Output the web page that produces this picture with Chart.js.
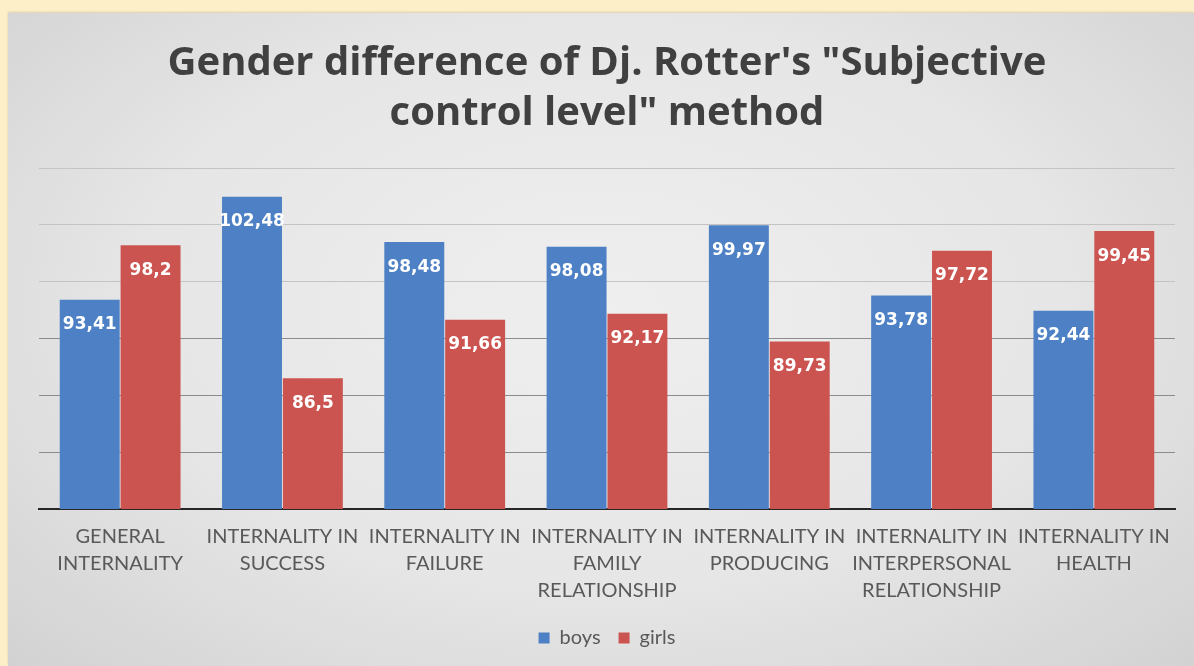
<!DOCTYPE html>
<html>
<head>
<meta charset="utf-8">
<script src="https://cdn.jsdelivr.net/npm/chart.js@4.4.1/dist/chart.umd.min.js"></script>
<style>
    html, body { margin: 0; padding: 0; background: #fdf0c9; }
    body { width: 1194px; height: 666px; position: relative; overflow: hidden; }
    #panel {
        position: absolute; left: 8px; top: 13px; width: 1186px; height: 653px;
        background: radial-gradient(ellipse at 50% 45%, #efefef 0%, #e6e6e6 55%, #d2d2d2 100%);
        box-shadow: 0 -1px 2px rgba(0,0,0,0.15);
    }
    #chart { display: block; }
</style>
</head>
<body>
<div id="panel"><canvas id="chart" width="1186" height="653"></canvas></div>
<script>
    const categories = [
        ['GENERAL', 'INTERNALITY'],
        ['INTERNALITY IN', 'SUCCESS'],
        ['INTERNALITY IN', 'FAILURE'],
        ['INTERNALITY IN', 'FAMILY', 'RELATIONSHIP'],
        ['INTERNALITY IN', 'PRODUCING'],
        ['INTERNALITY IN', 'INTERPERSONAL', 'RELATIONSHIP'],
        ['INTERNALITY IN', 'HEALTH']
    ];
    const boys = [93.41, 102.48, 98.48, 98.08, 99.97, 93.78, 92.44];
    const girls = [98.2, 86.5, 91.66, 92.17, 89.73, 97.72, 99.45];
    const seriesNames = ['boys', 'girls'];
    const titleLines = ['Gender difference of Dj. Rotter\'s "Subjective', 'control level" method'];

    // white values drawn inside the top of each bar, comma as decimal mark
    const barValues = {
        id: 'barValues',
        afterDatasetsDraw(chart) {
            const ctx = chart.ctx;
            ctx.save();
            ctx.fillStyle = '#ffffff';
            ctx.font = 'bold 17px "DejaVu Sans"';
            ctx.textAlign = 'center';
            ctx.textBaseline = 'middle';
            chart.data.datasets.forEach((ds, i) => {
                chart.getDatasetMeta(i).data.forEach((bar, j) => {
                    const txt = String(ds.data[j]).replace('.', ',');
                    ctx.fillText(txt, bar.x, bar.y + 25);
                });
            });
            ctx.restore();
        }
    };

    new Chart(document.getElementById('chart'), {
        type: 'bar',
        data: {
            labels: categories,
            datasets: [{
                label: seriesNames[0],
                data: boys,
                backgroundColor: '#4d80c4'
            }, {
                label: seriesNames[1],
                data: girls,
                backgroundColor: '#cc5450'
            }]
        },
        options: {
            responsive: false,
            animation: false,
            categoryPercentage: 0.75,
            barPercentage: 0.985,
            layout: { padding: { left: 31, right: 19, top: 26, bottom: 8 } },
            plugins: {
                title: {
                    display: true,
                    text: titleLines,
                    color: '#404040',
                    font: { family: 'Open Sans', size: 40, weight: 'bold', lineHeight: 1.25 },
                    padding: { top: 0, bottom: 29 }
                },
                legend: {
                    position: 'bottom',
                    labels: {
                        color: '#595959',
                        font: { family: 'Lato', size: 20 },
                        boxWidth: 11,
                        boxHeight: 11,
                        padding: 18
                    }
                },
                tooltip: { enabled: false }
            },
            scales: {
                x: {
                    grid: { display: false },
                    border: { color: '#262626', width: 2 },
                    ticks: {
                        color: '#595959',
                        font: { family: 'Lato', size: 20, lineHeight: 1.35 },
                        maxRotation: 0,
                        autoSkip: false,
                        padding: 6
                    }
                },
                y: {
                    min: 75,
                    max: 105,
                    ticks: { display: false, stepSize: 5 },
                    border: { display: false },
                    grid: {
                        drawTicks: false,
                        color: ctx => ctx.tick.value <= 90 ? '#8c8c8c' : '#c4c4c4'
                    }
                }
            }
        },
        plugins: [barValues]
    });
</script>
</body>
</html>
